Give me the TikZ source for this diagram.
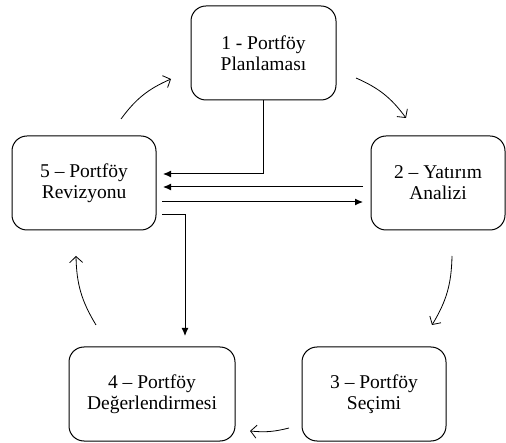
\documentclass[tikz,border=0pt]{standalone}
\usepackage{fontspec}
\setmainfont{Liberation Serif}
\newfontfamily\boxfont{Liberation Serif}
\usetikzlibrary{arrows.meta,calc}
\begin{document}
\begin{tikzpicture}[x=1pt,y=-1pt,
  box/.style={draw,line width=1pt,rounded corners=15pt,minimum height=94pt,align=center,
    font=\boxfont\fontsize{19.5pt}{21pt}\selectfont,inner sep=0pt},
  cyc/.style={line width=0.8pt,-{Straight Barb[length=6pt,width=13pt]},bend left=#1},
  cyc/.default=15,
  flow/.style={line width=1pt,-{Latex[length=8pt,width=7pt]}}]
\useasboundingbox (0,0) rectangle (506,443);
\node[box,minimum width=145pt] (b1) at (263.5,53) {1 - Portföy\\Planlaması};
\node[box,minimum width=134pt] (b2) at (438,183) {2 – Yatırım\\Analizi};
\node[box,minimum width=144pt] (b3) at (374,394) {3 – Portföy\\Seçimi};
\node[box,minimum width=166pt] (b4) at (152,394) {4 – Portföy\\Değerlendirmesi};
\node[box,minimum width=144pt] (b5) at (84,183) {5 – Portföy\\Revizyonu};
% cycle arrows
\coordinate (c51s) at (121,119); \coordinate (c51e) at (171,79);
\coordinate (c12s) at (356,78);  \coordinate (c12e) at (406,118);
\coordinate (c23s) at (452,256); \coordinate (c23e) at (432,325);
\coordinate (c34s) at (289,428); \coordinate (c34e) at (250,431);
\coordinate (c45s) at (96,325);  \coordinate (c45e) at (76,256);
\draw[cyc] (c51s) to (c51e);
\draw[cyc] (c12s) to (c12e);
\draw[cyc] (c23s) to (c23e);
\draw[cyc=10] (c34s) to (c34e);
\draw[cyc] (c45s) to (c45e);
% flows
\coordinate (f15e) at (163,174);
\draw[flow] (b1.south) |- (f15e);
\coordinate (f25s) at (363,187); \coordinate (f25e) at (163,187);
\draw[flow] (f25s) -- (f25e);
\coordinate (f52s) at (162,202); \coordinate (f52e) at (363,202);
\draw[flow] (f52s) -- (f52e);
\coordinate (f54s) at (162,215); \coordinate (f54e) at (185,336);
\draw[flow] (f54s) -| (f54e);
\end{tikzpicture}
\end{document}
